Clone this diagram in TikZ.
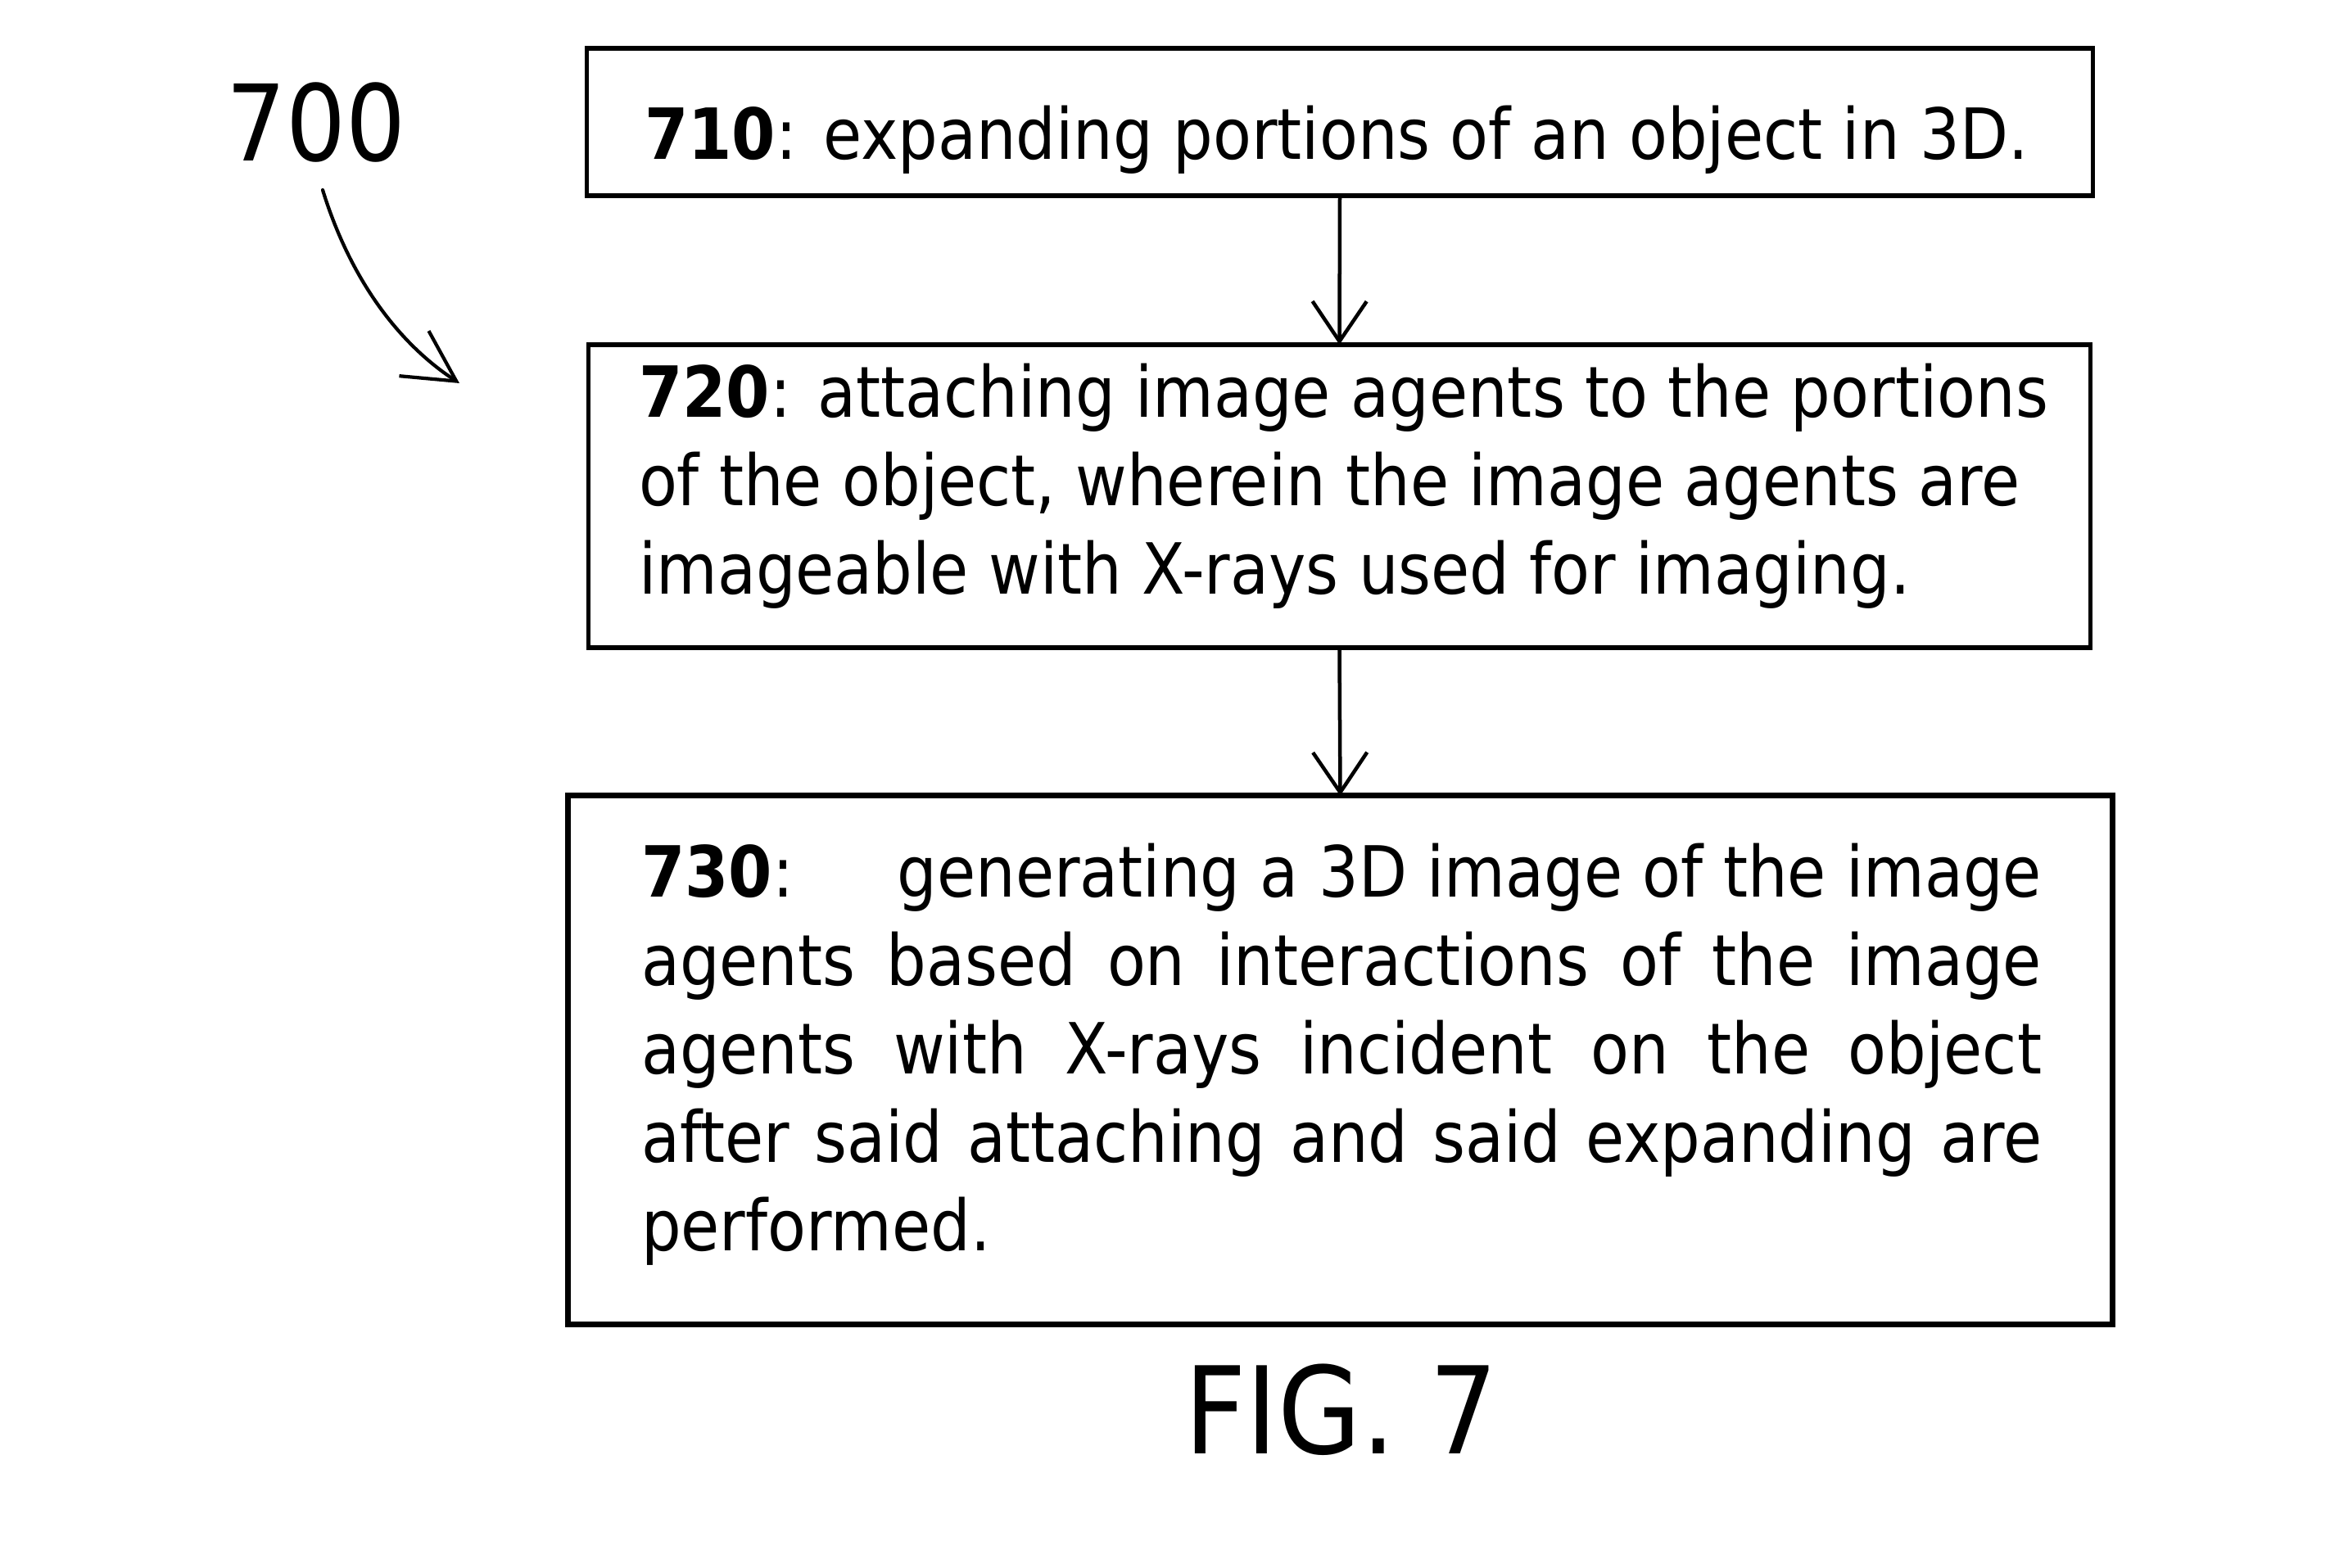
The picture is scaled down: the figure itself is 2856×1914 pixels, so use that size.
\documentclass[tikz,border=0pt]{standalone}
\usepackage{fontspec}
\setmainfont{DejaVu Sans}
\newfontfamily\tah[FakeStretch=0.89]{DejaVu Sans}
\usetikzlibrary{arrows.meta}
\newcommand\bodyfont{\tah\fontsize{24.5pt}{30.73pt}\selectfont}
\begin{document}
\begin{tikzpicture}[x=0.01cm,y=-0.01cm,
  box/.style={draw, line width=1.56pt, inner sep=0pt, outer sep=0pt},
  txt/.style={inner sep=0pt, outer sep=0pt, font=\bodyfont},
  arr/.style={line width=1.28pt, -{Straight Barb[length=13.9pt,width=18.8pt]}},
  carr/.style={line width=1.2pt, line cap=round, -{Straight Barb[length=17.6pt,width=18.7pt]}}]
\useasboundingbox (0,0) rectangle (2856,1914);
% boxes
\node[box, minimum width=18.38cm, minimum height=1.80cm] (b710) at (1636,149) {};
\node[box, minimum width=18.33cm, minimum height=3.70cm] (b720) at (1635.5,606) {};
\node[box, line width=2pt, minimum width=18.85cm, minimum height=6.45cm] (b730) at (1636.5,1294.5) {};
% texts
\node[txt, anchor=base west] (t710) at (787,194) {\textbf{710}: expanding portions of an object in 3D.};
\node[txt, anchor=base west] (t720) at (780,509) {\parbox[t]{17.3cm}{\bodyfont\raggedright
  \textbf{720}: attaching image agents to the portions\\
  of the object, wherein the image agents are\\
  imageable with X-rays used for imaging.}};
\node[txt, anchor=base west] (t730) at (783,1095) {\parbox[t]{17.09cm}{\bodyfont
  \makebox[17.09cm][l]{\textbf{730}:\hfill generating a 3D image of the image}\\
  \makebox[17.09cm][s]{agents based on interactions of the image}\\
  \makebox[17.09cm][s]{agents with X-rays incident on the object}\\
  \makebox[17.09cm][s]{after said attaching and said expanding are}\\
  performed.}};
% labels
\node[inner sep=0pt, anchor=base, font=\tah\fontsize{36.7pt}{44pt}\selectfont] (l700) at (386,196) {700};
\node[inner sep=0pt, anchor=base, font=\tah\fontsize{42pt}{50pt}\selectfont] (fig) at (1638,1775) {FIG. 7};
% connectors
\draw[arr] (b710.south) -- (b720.north);
\draw[arr] (b720.south) -- (b730.north);
\coordinate (cs) at (394,232);
\coordinate (ce) at (561,468);
\draw[carr] (cs) .. controls (423.5,327.5) and (477,413) .. (ce);
\end{tikzpicture}
\end{document}
